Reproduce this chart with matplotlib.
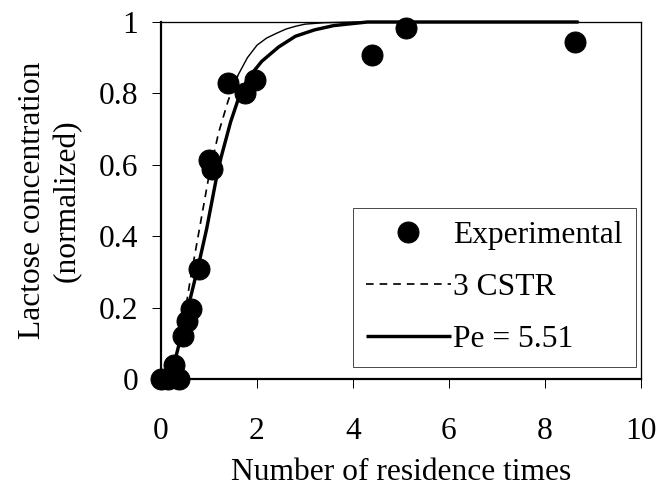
import matplotlib
matplotlib.use("Agg")
import matplotlib.pyplot as plt

# ---- data ----
exp_x = [0.0, 0.15, 0.38, 0.28, 0.45, 0.535, 0.62, 0.80, 0.99, 1.06, 1.40, 1.75, 1.96, 4.4, 5.1, 8.63]
exp_y = [0.0, 0.0, 0.0, 0.04, 0.12, 0.163, 0.196, 0.308, 0.614, 0.589, 0.83, 0.80, 0.837, 0.907, 0.983, 0.943]

cstr_x = [0.0, 0.2, 0.4, 0.6, 0.8, 1.0, 1.2, 1.4, 1.6, 1.8, 2.0, 2.2, 2.4, 2.6, 2.8, 3.0, 3.4, 4.0, 5.0, 6.0, 8.7]
cstr_y = [0.0, 0.02, 0.10, 0.27, 0.42, 0.57, 0.69, 0.78, 0.85, 0.90, 0.935, 0.955, 0.968, 0.98, 0.988, 0.994, 0.998, 1.0, 1.0, 1.0, 1.0]

pe_x = [0.0, 0.15, 0.25, 0.4, 0.6, 0.8, 0.95, 1.15, 1.25, 1.45, 1.6, 1.8, 2.1, 2.45, 2.8, 3.2, 3.6, 4.3, 5.0, 6.0, 8.7]
pe_y = [0.0, 0.0, 0.03, 0.11, 0.22, 0.33, 0.42, 0.56, 0.62, 0.72, 0.78, 0.84, 0.89, 0.93, 0.96, 0.978, 0.99, 1.0, 1.0, 1.0, 1.0]

x_ticks = [0, 2, 4, 6, 8, 10]
y_ticks = [0, 0.2, 0.4, 0.6, 0.8, 1]
y_tick_labels = ["0", "0.2", "0.4", "0.6", "0.8", "1"]

plt.rcParams['font.family'] = ['Liberation Serif', 'DejaVu Serif']
FS = 31.5

fig = plt.figure(figsize=(660/72, 491/72), dpi=72)
ax = fig.add_axes([161/660, 1-379/491, 480/660, 357/491])

split = 9  # index where the dotted line turns visually solid
ax.plot(cstr_x[:split], cstr_y[:split], color='black', lw=1.7,
        dashes=(4.5, 3.5), label='3 CSTR', clip_on=False, zorder=3)
ax.plot(cstr_x[split-1:], cstr_y[split-1:], color='black', lw=1.4,
        clip_on=False, zorder=3)
ax.plot(pe_x, pe_y, color='black', lw=3.4, solid_capstyle='butt',
        label='Pe = 5.51', clip_on=False, zorder=3)
ax.plot(exp_x, exp_y, 'o', color='black', ms=21, mec='black',
        label='Experimental', clip_on=False, zorder=4)

ax.set_xlim(0, 10)
ax.set_ylim(0, 1)
ax.set_xticks(x_ticks)
ax.set_xticklabels([str(v) for v in x_ticks])
ax.set_yticks(y_ticks)
ax.set_yticklabels(y_tick_labels)
ax.tick_params(axis='both', direction='out', length=9, width=1, labelsize=FS)
ax.tick_params(axis='x', pad=29)
ax.tick_params(axis='y', pad=14)

for s in ['left', 'bottom']:
    ax.spines[s].set_linewidth(2.2)
for s in ['top', 'right']:
    ax.spines[s].set_linewidth(1.3)

ax.set_xlabel('Number of residence times', fontsize=FS, labelpad=12)
ax.set_ylabel('Lactose concentration\n(normalized)', fontsize=FS,
              labelpad=17, linespacing=1.25)

h, l = ax.get_legend_handles_labels()
order = [2, 0, 1]
leg = ax.legend([h[i] for i in order], [l[i] for i in order],
                loc='lower right', bbox_to_anchor=(0.990, 0.034),
                borderaxespad=0, fontsize=FS, frameon=True, fancybox=False,
                edgecolor='0.3', framealpha=1, handlelength=2.7,
                handletextpad=0.08, labelspacing=0.72, borderpad=0.42,
                numpoints=1)
leg.get_frame().set_linewidth(1.0)

fig.savefig('out.png', dpi=72)
